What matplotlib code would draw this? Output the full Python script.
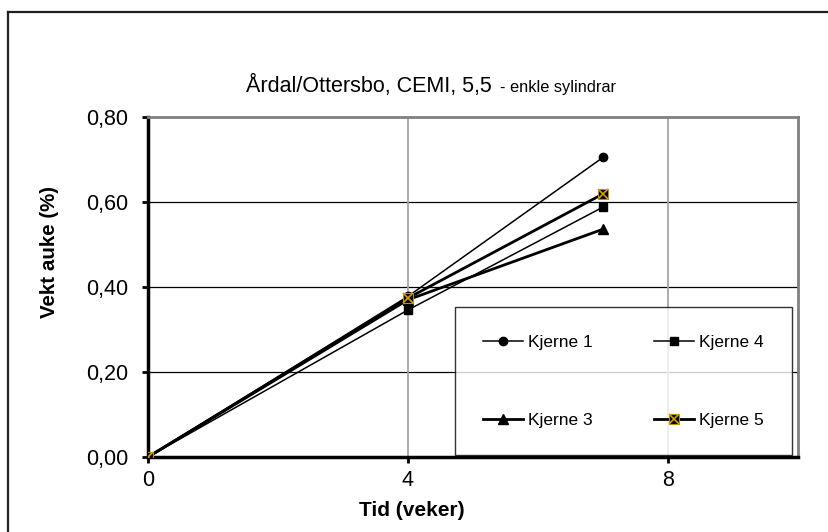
import matplotlib.pyplot as plt
from matplotlib.lines import Line2D

plt.rcParams['font.family'] = ['Liberation Sans', 'DejaVu Sans']

# Data
tid = [0, 4, 7]
kjerne_1 = [0.0, 0.378, 0.705]
kjerne_3 = [0.0, 0.370, 0.536]
kjerne_4 = [0.0, 0.346, 0.588]
kjerne_5 = [0.0, 0.374, 0.619]

y_ticks = [0.0, 0.2, 0.4, 0.6, 0.8]
x_ticks = [0, 4, 8]

W, H = 829, 532
fig = plt.figure(figsize=(W / 100, H / 100), dpi=100)
ax = fig.add_axes([148 / W, (H - 457) / H, 650 / W, 340 / H])

# Gridlines: horizontal black, vertical grey
for yv in y_ticks[1:-1]:
    ax.axhline(yv, color='black', lw=0.9, zorder=1)
for xv in x_ticks[1:]:
    ax.axvline(xv, color='#a6a6a6', lw=1.3, zorder=1)

l1, = ax.plot(tid, kjerne_1, color='black', lw=1.1, marker='o', ms=6, zorder=3)
l4, = ax.plot(tid, kjerne_4, color='black', lw=1.1, marker='s', ms=6, zorder=3)
l3, = ax.plot(tid, kjerne_3, color='black', lw=2.0, marker='^', ms=7, zorder=3)
l5, = ax.plot(tid, kjerne_5, color='black', lw=2.0, marker='s', ms=7,
              mfc='black', mec='#b8900a', mew=0.8, zorder=4)
l5x, = ax.plot(tid, kjerne_5, ls='none', marker='x', ms=7, mec='#d4a000',
               mew=1.2, zorder=5)

ax.set_xlim(0, 10)
ax.set_ylim(0, 0.8)
ax.set_xticks(x_ticks)
ax.set_xticklabels([str(v) for v in x_ticks], fontsize=15.5)
ax.set_yticks(y_ticks)
ax.set_yticklabels([f"{v:.2f}".replace('.', ',') for v in y_ticks], fontsize=15.5)
ax.tick_params(direction='out', length=4, width=2)
ax.tick_params(axis='y', pad=10)
ax.tick_params(axis='x', pad=5)

for s in ['left', 'bottom']:
    ax.spines[s].set_linewidth(2.5)
    ax.spines[s].set_color('black')
for s in ['top', 'right']:
    ax.spines[s].set_linewidth(2)
    ax.spines[s].set_color('#808080')

leg = ax.legend([l1, l3, l4, (l5, l5x)], ['Kjerne 1', 'Kjerne 3', 'Kjerne 4', 'Kjerne 5'],
                ncol=2, mode='expand', loc='upper left',
                bbox_to_anchor=(455 / W, (H - 457) / H, 337 / W, 150 / H),
                bbox_transform=fig.transFigure, fontsize=12.5, frameon=True,
                fancybox=False, borderaxespad=0, borderpad=1.6, labelspacing=3.6,
                handlelength=2.3, handletextpad=0.3)
leg.get_frame().set_edgecolor('black')
leg.get_frame().set_linewidth(1.0)
leg.set_zorder(6)

# Title in two sizes
fig.text(492 / W, 1 - 92 / H, 'Årdal/Ottersbo, CEMI, 5,5', fontsize=15.5,
         ha='right', va='baseline')
fig.text(500 / W, 1 - 92 / H, '- enkle sylindrar', fontsize=11.8,
         ha='left', va='baseline')

fig.text(50 / W, 1 - 252 / H, 'Vekt auke (%)', fontsize=14.8, fontweight='bold',
         rotation=90, ha='center', va='center')
fig.text(412 / W, 1 - 510 / H, 'Tid (veker)', fontsize=15, fontweight='bold',
         ha='center', va='center')

# Outer chart frame (top and left edges visible)
fig.add_artist(Line2D([8 / W, 1.0], [1 - 12 / H, 1 - 12 / H], color='#202020', lw=1.6))
fig.add_artist(Line2D([8 / W, 8 / W], [0.0, 1 - 12 / H], color='#202020', lw=1.6))

fig.savefig('out.png', dpi=100)
